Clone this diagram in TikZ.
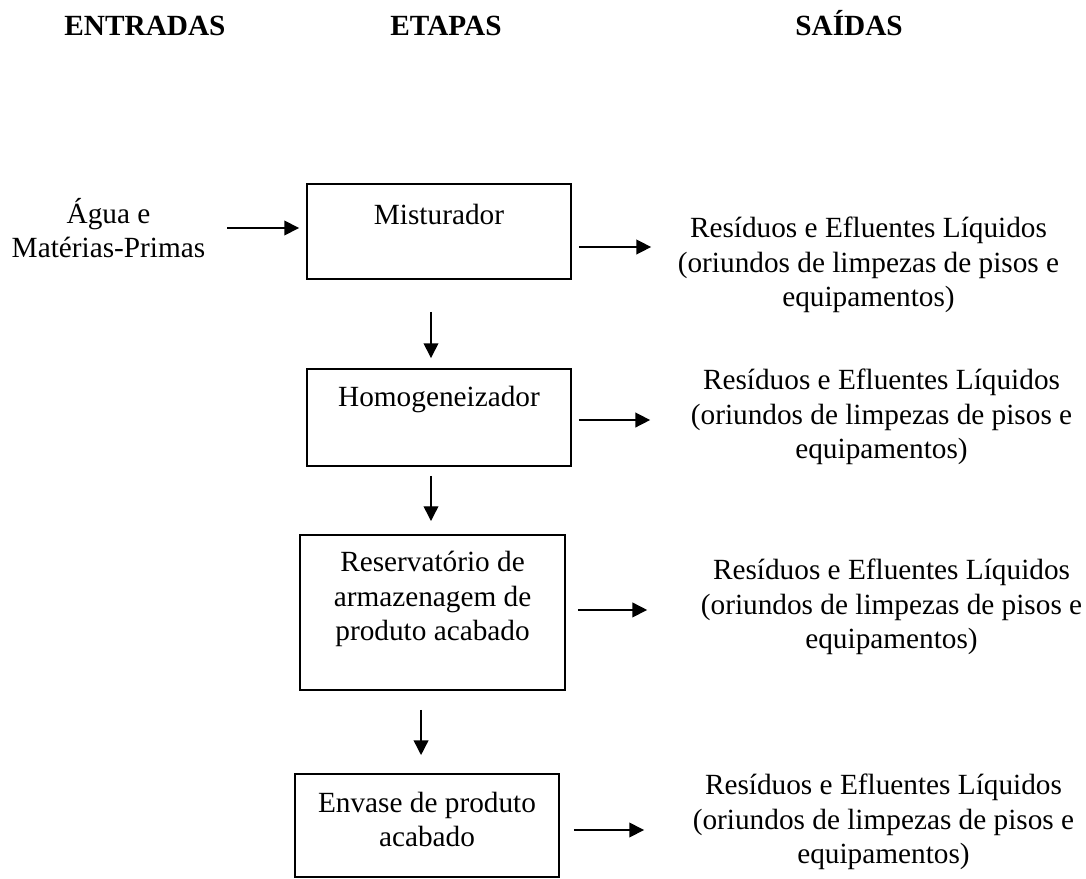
\documentclass[tikz,border=0pt]{standalone}
\usepackage{fontspec}
\setmainfont{Liberation Serif}
\usepackage{tikz}
\usetikzlibrary{shapes,arrows,positioning,arrows.meta}

\begin{document}
\begin{tikzpicture}[line width=0.6pt, >={Triangle[length=6pt, width=6pt]}, font=\fontsize{11.9}{14}\selectfont]
	\tikzstyle{etapa_style}=[rectangle, draw, line width=0.75pt, anchor=base, align=flush center, inner sep=0pt]
	\tikzstyle{saida_style}=[align=center, inner sep=0pt]
	\useasboundingbox (0, 0) rectangle (15.514, -12.543);

	% titulos
	\node at (2.071, -0.514) [anchor=base] (titulo_entradas) {\textbf{ENTRADAS}};
	\node at (6.371, -0.514) [anchor=base] (titulo_etapas) {\textbf{ETAPAS}};
	\node at (12.129, -0.514) [anchor=base] (titulo_saidas) {\textbf{SAÍDAS}};

	% entrada
	\node at (1.55, -3.257) [align=center] (entrada) {Água e\\Matérias-Primas};

	% etapas
	\node at (6.271, -3.2) [etapa_style, text width=3.771cm, text height=0.571cm, text depth=0.786cm] (etapa_1) {Misturador};
	\node at (6.271, -5.814) [etapa_style, text width=3.771cm, text height=0.543cm, text depth=0.843cm] (etapa_2) {Homogeneizador};
	\node at (6.179, -8.171) [etapa_style, text width=3.786cm, text height=0.529cm, text depth=1.686cm] (etapa_3) {Reservatório de\\armazenagem de\\produto acabado};
	\node at (6.1, -11.6) [etapa_style, text width=3.771cm, text height=0.543cm, text depth=0.929cm] (etapa_4) {Envase de produto\\acabado};

	% saidas
	\foreach \i/\x/\y in {1/12.407/-3.786, 2/12.593/-5.957, 3/12.736/-8.671, 4/12.621/-11.743}
		\node at (\x, \y) [saida_style] (saida_\i) {Resíduos e Efluentes Líquidos\\(oriundos de limpezas de pisos e\\equipamentos)};

	% connect: entrada -> etapa 1
	\draw[->, shorten <=0.186cm, shorten >=0.1cm] (entrada.east) -- (entrada.east -| etapa_1.west);

	% connect: etapa i -> etapa j
	\foreach \i/\j/\dx/\a/\b in {1/2/-0.114cm/0.457cm/0.143cm, 2/3/-0.114cm/0.129cm/0.186cm, 3/4/-0.164cm/0.271cm/0.257cm}
		\draw[->, shorten <=\a, shorten >=\b] ([xshift=\dx]etapa_\i.south) -- ([xshift=\dx]etapa_\i.south |- etapa_\j.north);

	% connect: etapa i -> saida i
	\foreach \i/\dy/\a/\b in {1/-0.221cm/0.1cm/0.371cm, 2/-0.036cm/0.1cm/0.571cm, 3/0.036cm/0.171cm/0.757cm, 4/-0.064cm/0.2cm/0.686cm}
		\draw[->, shorten <=\a, shorten >=\b] ([yshift=\dy]etapa_\i.east) -- ([yshift=\dy]etapa_\i.east -| saida_\i.west);

\end{tikzpicture}
\end{document}
